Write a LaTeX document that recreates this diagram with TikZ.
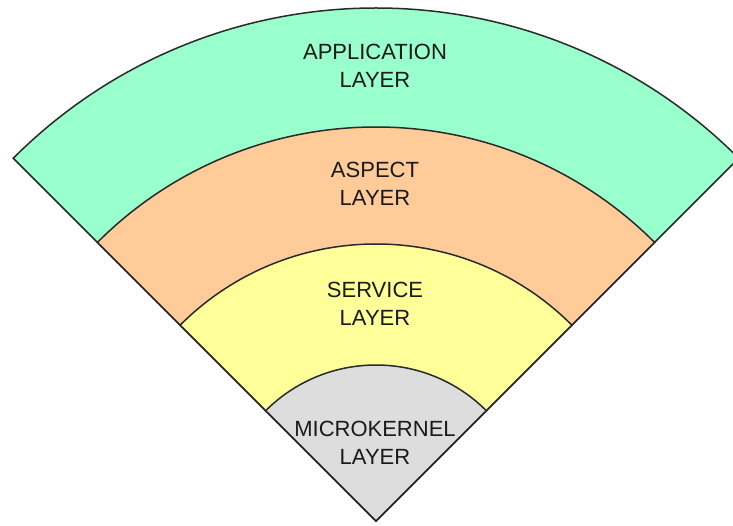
\documentclass[tikz,border=0pt]{standalone}
\usepackage{fontspec}
\setmainfont{Liberation Sans}
\definecolor{appgreen}{HTML}{99FFCC}
\definecolor{asporange}{HTML}{FFCC99}
\definecolor{servyellow}{HTML}{FFFF99}
\definecolor{kerngray}{HTML}{DDDDDD}
\definecolor{edge}{HTML}{2A2A2A}
\definecolor{txt}{HTML}{1A1A1A}
\begin{document}
\begin{tikzpicture}[x=1pt,y=1pt,
  sector/.style={draw=edge,line width=1.5pt,line join=miter},
  lbl/.style={align=center,inner sep=0pt,text=txt,font=\fontsize{22}{28}\selectfont}]
\useasboundingbox (0,0) rectangle (733,525);
\clip (0,0) rectangle (733,525);
\coordinate (c) at (376,4);
\draw[sector,fill=appgreen]   (c) -- ++(45:513) arc (45:135:513) -- cycle;
\draw[sector,fill=asporange]  (c) -- ++(45:394) arc (45:135:394) -- cycle;
\draw[sector,fill=servyellow] (c) -- ++(45:277) arc (45:135:277) -- cycle;
\draw[sector,fill=kerngray]   (c) -- ++(45:156) arc (45:135:156) -- cycle;
\node[lbl] (app)  at (375,459) {APPLICATION\\LAYER};
\node[lbl] (asp)  at (375,341) {ASPECT\\LAYER};
\node[lbl] (serv) at (375,221) {SERVICE\\LAYER};
\node[lbl] (kern) at (375,82)  {MICROKERNEL\\LAYER};
\end{tikzpicture}
\end{document}
